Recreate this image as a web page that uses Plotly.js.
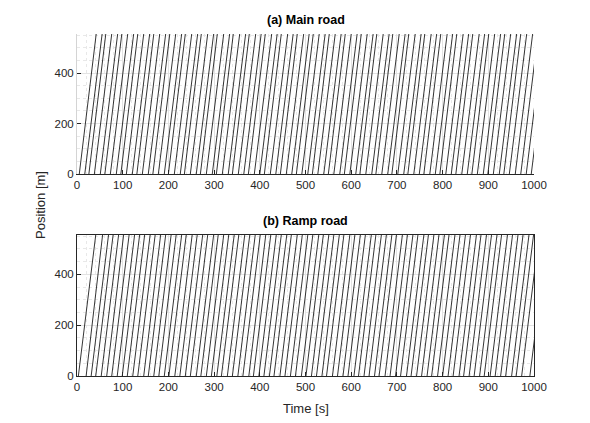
<!DOCTYPE html>
<html>
<head>
<meta charset="utf-8">
<script src="https://cdn.plot.ly/plotly-3.0.1.min.js"></script>
<style>
  html, body { margin: 0; padding: 0; background: #fff; }
  #chart { width: 590px; height: 423px; }
</style>
</head>
<body>
<div id="chart"></div>
<script>
// road length shown on the y axis [m]
const roadLength = 555;

// main road: time each vehicle enters (position 0) and leaves (end of road) [s]
const mainIn = [5, 17, 26, 38, 51, 61, 73, 86, 96, 108,
  121, 131, 143, 156, 166, 178, 191, 200, 213, 226,
  235, 248, 261, 270, 283, 296, 305, 318, 331, 340,
  353, 365, 375, 388, 400, 410, 423, 435, 445, 458,
  470, 480, 492, 505, 515, 527, 540, 550, 562, 575,
  585, 597, 610, 619, 632, 645, 654, 667, 680, 689,
  702, 715, 724, 737, 749, 759, 772, 784, 794, 807,
  819, 829, 842, 854, 864, 876, 889, 899, 911, 924,
  934, 946, 959, 971, 983, 994];
const mainOut = [42, 55, 63, 76, 89, 98, 111, 124, 133, 146,
  159, 168, 181, 194, 203, 216, 229, 237, 251, 264,
  272, 286, 299, 307, 321, 334, 342, 356, 369, 377,
  391, 403, 412, 426, 438, 447, 461, 473, 482, 496,
  508, 517, 530, 543, 552, 565, 578, 587, 600, 613,
  622, 635, 648, 656, 670, 683, 691, 705, 718, 726,
  740, 753, 761, 775, 787, 796, 810, 822, 831, 845,
  857, 866, 880, 892, 901, 914, 927, 936, 949, 962,
  971, 984, 997, 1009, 1021, 1032];

// ramp road
const rampIn = [3, 20, 31, 41, 53, 65, 76, 88, 99, 110,
  122, 133, 146, 156, 168, 179, 191, 201, 214, 225,
  237, 248, 261, 271, 283, 294, 306, 316, 329, 340,
  352, 363, 376, 386, 398, 409, 421, 431, 444, 455,
  467, 478, 491, 501, 513, 524, 536, 546, 559, 570,
  582, 593, 606, 616, 628, 639, 651, 661, 674, 685,
  697, 708, 721, 731, 743, 754, 766, 776, 789, 800,
  812, 823, 836, 846, 858, 869, 881, 891, 904, 915,
  927, 938, 951, 961, 973, 991];
const rampOut = [41, 56, 69, 79, 91, 102, 114, 126, 137, 148,
  160, 171, 183, 194, 206, 217, 229, 239, 252, 263,
  275, 286, 299, 309, 321, 332, 344, 354, 367, 378,
  390, 401, 413, 424, 436, 447, 459, 469, 482, 493,
  505, 516, 529, 539, 551, 562, 574, 584, 597, 608,
  620, 631, 644, 654, 666, 677, 689, 699, 712, 723,
  735, 746, 759, 769, 781, 792, 804, 814, 827, 838,
  850, 861, 874, 884, 896, 907, 919, 929, 942, 953,
  965, 976, 989, 999, 1011, 1029];

const xTicks = [0, 100, 200, 300, 400, 500, 600, 700, 800, 900, 1000];
const yTicks = [0, 200, 400];

// one trace per panel, segments split with null
function trajectories(tIn, tOut, yref) {
  const x = [], y = [];
  tIn.forEach((t0, i) => {
    x.push(t0, tOut[i], null);
    y.push(0, roadLength, null);
  });
  return {
    x, y, type: 'scatter', mode: 'lines', yaxis: yref, xaxis: yref === 'y' ? 'x' : 'x2',
    line: { color: '#000', width: 0.8 }, hoverinfo: 'skip', showlegend: false,
  };
}

const tickFont = { family: 'Liberation Sans, Arial, sans-serif', size: 11.5, color: '#262626' };
const gridColor = '#e3e3e3';

function xAxis(anchor, boxed) {
  return {
    anchor, range: [0, 1000], tickvals: xTicks, ticktext: xTicks.map(String),
    ticks: 'inside', ticklen: 4, tickcolor: '#262626',
    showline: true, linecolor: '#262626', linewidth: 1, mirror: boxed,
    showgrid: true, gridcolor: gridColor, gridwidth: 1, zeroline: false,
    minor: { dtick: 20, showgrid: true, gridcolor: '#e8e8e8', griddash: 'dot', ticks: '' },
    tickfont: tickFont, fixedrange: true,
  };
}
function yAxis(anchor, domain, boxed) {
  return {
    anchor, domain, range: [0, roadLength], tickvals: yTicks, ticktext: yTicks.map(String),
    ticks: 'inside', ticklen: 4, tickcolor: '#262626',
    // top panel has only a faint left edge, bottom panel a full box
    showline: true, linecolor: boxed ? '#262626' : '#d4d4d4', linewidth: 1, mirror: boxed,
    showgrid: true, gridcolor: gridColor, gridwidth: 1, zeroline: false,
    minor: { dtick: 50, showgrid: true, gridcolor: '#e8e8e8', griddash: 'dot', ticks: '' },
    tickfont: tickFont, fixedrange: true,
  };
}

const labelFont = { family: 'Liberation Sans, Arial, sans-serif', size: 13, color: '#262626' };
const titleFont = { family: 'Liberation Sans, Arial, sans-serif', size: 12.5, color: '#000' };

const layout = {
  width: 590, height: 423,
  margin: { l: 77, r: 56, t: 34, b: 47 },
  paper_bgcolor: '#fff', plot_bgcolor: '#fff',
  xaxis: xAxis('y', false),
  yaxis: yAxis('x', [0.5906, 1], false),
  xaxis2: xAxis('y2', true),
  yaxis2: yAxis('x2', [0, 0.4123], true),
  annotations: [
    { text: '<b>(a) Main road</b>', xref: 'paper', yref: 'paper', x: 0.5, y: 1.041,
      xanchor: 'center', yanchor: 'middle', showarrow: false, font: titleFont },
    { text: '<b>(b) Ramp road</b>', xref: 'paper', yref: 'paper', x: 0.5, y: 0.453,
      xanchor: 'center', yanchor: 'middle', showarrow: false, font: titleFont },
    { text: 'Time [s]', xref: 'paper', yref: 'paper', x: 0.5, y: -0.094,
      xanchor: 'center', yanchor: 'middle', showarrow: false, font: labelFont },
    { text: 'Position [m]', xref: 'paper', yref: 'paper', x: -0.081, y: 0.5, textangle: -90,
      xanchor: 'center', yanchor: 'middle', showarrow: false, font: labelFont },
  ],
};

Plotly.newPlot('chart', [
  trajectories(mainIn, mainOut, 'y'),
  trajectories(rampIn, rampOut, 'y2'),
], layout, { displayModeBar: false, staticPlot: true });
</script>
</body>
</html>
